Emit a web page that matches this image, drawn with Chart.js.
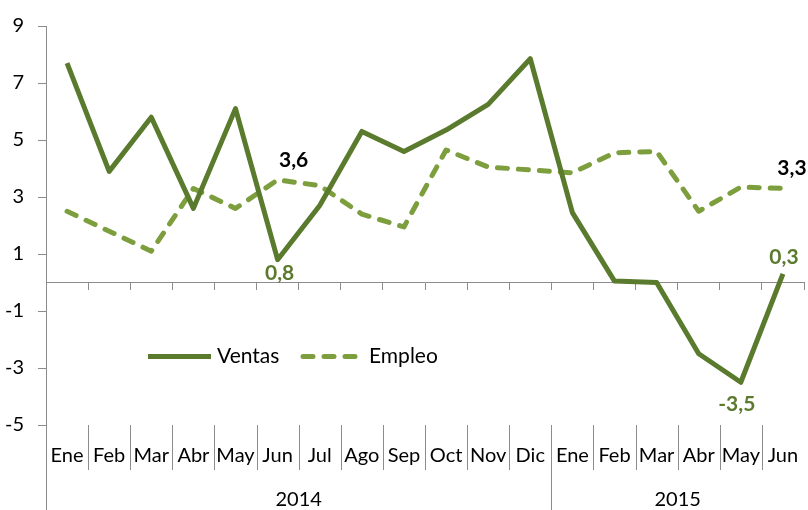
<!DOCTYPE html>
<html>
<head>
<meta charset="utf-8">
<script src="https://cdn.jsdelivr.net/npm/chart.js@4"></script>
<style>
  html, body { margin: 0; padding: 0; background: #fff; }
  #wrap { width: 808px; height: 510px; }
</style>
</head>
<body>
<div id="wrap"><canvas id="chart" width="808" height="510"></canvas></div>
<script>
// Data
const months = ["Ene", "Feb", "Mar", "Abr", "May", "Jun", "Jul", "Ago", "Sep", "Oct", "Nov", "Dic",
                "Ene", "Feb", "Mar", "Abr", "May", "Jun"];
const years = ["2014", "2015"];
const yearSpans = [12, 6];
const ventas = [7.7, 3.9, 5.8, 2.6, 6.1, 0.8, 2.7, 5.3, 4.6, 5.35, 6.25, 7.85,
                2.45, 0.05, 0.0, -2.5, -3.5, 0.3];
const empleo = [2.5, 1.8, 1.1, 3.3, 2.6, 3.6, 3.4, 2.4, 1.95, 4.65, 4.05, 3.95,
                3.85, 4.55, 4.6, 2.5, 3.35, 3.3];
const yTicks = [-5, -3, -1, 1, 3, 5, 7, 9];

// Which points get a value label
const ventasLabels = [5, 16, 17];
const empleoLabels = [5, 17];

const FONT = "Lato, 'Open Sans', sans-serif";
const C_VENTAS = "#5a7a2d";
const C_EMPLEO = "#7d9e3c";
const C_AXIS = "#8c8c8c";

// label offsets from point (dx, dy), colour
const labelStyle = {
  ventas: { 5: [2, 14, C_VENTAS], 16: [-4, 22, C_VENTAS], 17: [1, -17, C_VENTAS] },
  empleo: { 5: [16, -20, "#000"], 17: [9, -20, "#000"] }
};

function fmt(v) {
  return v.toFixed(1).replace(".", ",");
}

// value labels
const valueLabels = {
  id: "valueLabels",
  afterDatasetsDraw(chart) {
    const ctx = chart.ctx;
    ctx.save();
    ctx.font = "bold 21px " + FONT;
    ctx.textAlign = "center";
    ctx.textBaseline = "middle";
    const sets = [["ventas", 0, ventasLabels, ventas], ["empleo", 1, empleoLabels, empleo]];
    sets.forEach(([key, di, idxs, vals]) => {
      const meta = chart.getDatasetMeta(di);
      idxs.forEach(i => {
        const p = meta.data[i];
        const st = labelStyle[key][i];
        ctx.fillStyle = st[2];
        ctx.fillText(fmt(vals[i]), p.x + st[0], p.y + st[1]);
      });
    });
    ctx.restore();
  }
};

// month / year labels under the plot, with separators
const bottomAxis = {
  id: "bottomAxis",
  afterDraw(chart) {
    const ctx = chart.ctx;
    const x = chart.scales.x;
    const area = chart.chartArea;
    const step = x.getPixelForValue(1) - x.getPixelForValue(0);
    const top = area.bottom;
    ctx.save();
    ctx.strokeStyle = C_AXIS;
    ctx.lineWidth = 1;
    // left axis runs to the bottom
    ctx.beginPath();
    ctx.moveTo(area.left + 0.5, top);
    ctx.lineTo(area.left + 0.5, chart.height);
    ctx.stroke();
    // month separators
    for (let i = 1; i < months.length; i++) {
      const sx = Math.round(x.getPixelForValue(i) - step / 2) + 0.5;
      ctx.beginPath();
      ctx.moveTo(sx, top);
      ctx.lineTo(sx, i === yearSpans[0] ? chart.height : top + 45);
      ctx.stroke();
    }
    ctx.fillStyle = "#000";
    ctx.font = "20px " + FONT;
    ctx.textAlign = "center";
    ctx.textBaseline = "middle";
    months.forEach((m, i) => ctx.fillText(m, x.getPixelForValue(i), top + 31));
    let start = 0;
    years.forEach((y, k) => {
      const a = x.getPixelForValue(start) - step / 2;
      const b = x.getPixelForValue(start + yearSpans[k] - 1) + step / 2;
      ctx.fillText(y, (a + b) / 2, top + 75);
      start += yearSpans[k];
    });
    ctx.restore();
  }
};

// legend inside the plot
const innerLegend = {
  id: "innerLegend",
  afterDraw(chart) {
    const ctx = chart.ctx;
    const yl = chart.scales.y.getPixelForValue(-2.6);
    const items = [
      { x: 148, len: 63, ds: chart.data.datasets[0] },
      { x: 300, len: 56, ds: chart.data.datasets[1] }
    ];
    ctx.save();
    items.forEach(it => {
      ctx.strokeStyle = it.ds.borderColor;
      ctx.lineWidth = 5;
      ctx.lineCap = it.ds.borderDash ? "round" : "butt";
      ctx.setLineDash(it.ds.borderDash || []);
      ctx.beginPath();
      ctx.moveTo(it.x + (it.ds.borderDash ? 3 : 0), yl);
      ctx.lineTo(it.x + it.len, yl);
      ctx.stroke();
      ctx.setLineDash([]);
      ctx.fillStyle = "#000";
      ctx.font = "21px " + FONT;
      ctx.textBaseline = "middle";
      ctx.fillText(it.ds.label, it.x + it.len + (it.ds.borderDash ? 13 : 6), yl);
    });
    ctx.restore();
  }
};

const chart = new Chart(document.getElementById("chart"), {
  type: "line",
  data: {
    labels: months,
    datasets: [
      {
        label: "Ventas",
        data: ventas,
        borderColor: C_VENTAS,
        borderWidth: 5,
        borderJoinStyle: "round",
        pointRadius: 0,
        tension: 0
      },
      {
        label: "Empleo",
        data: empleo,
        borderColor: C_EMPLEO,
        borderWidth: 5,
        borderDash: [10, 11],
        borderCapStyle: "round",
        borderJoinStyle: "round",
        pointRadius: 0,
        tension: 0
      }
    ]
  },
  options: {
    responsive: false,
    animation: false,
    layout: { padding: { top: 22, right: 4, bottom: 85, left: 0 } },
    plugins: {
      legend: { display: false },
      tooltip: { enabled: false }
    },
    scales: {
      x: {
        position: { y: 0 },
        offset: true,
        ticks: { display: false },
        grid: {
          offset: true,
          drawOnChartArea: false,
          tickLength: 7,
          color: C_AXIS
        },
        border: { color: C_AXIS, width: 1 }
      },
      y: {
        min: -5,
        max: 9,
        afterBuildTicks: s => { s.ticks = yTicks.map(v => ({ value: v })); },
        afterFit: s => { s.width = 46; },
        ticks: {
          color: "#000",
          padding: 14,
          font: { family: FONT, size: 20 }
        },
        grid: {
          drawOnChartArea: false,
          tickLength: 8,
          color: C_AXIS
        },
        border: { color: C_AXIS, width: 1 }
      }
    }
  },
  plugins: [valueLabels, bottomAxis, innerLegend]
});
</script>
</body>
</html>
